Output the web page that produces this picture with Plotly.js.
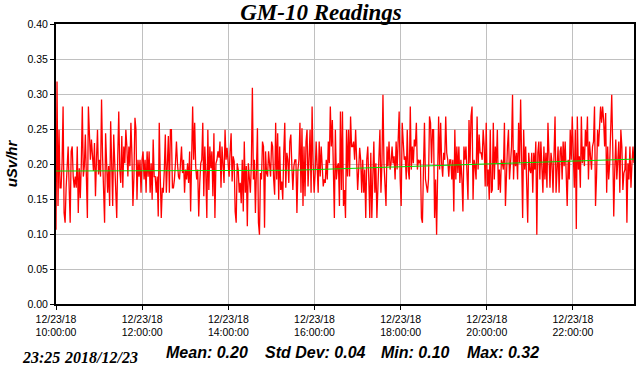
<!DOCTYPE html>
<html>
<head>
<meta charset="utf-8">
<script src="https://cdn.plot.ly/plotly-3.0.1.min.js"></script>
<style>
  html, body { margin: 0; padding: 0; background: #fff; }
  #chart { width: 642px; height: 365px; }
</style>
</head>
<body>
<div id="chart"></div>
<script>
// GM-10 dose-rate readings (uSv/hr), evenly sampled from 10:00 to 23:25 on 2018-12-23
const readings = [
  0.106,0.318,0.140,0.249,0.166,0.166,0.201,0.282,0.130,0.116,
  0.166,0.201,0.225,0.166,0.116,0.218,0.225,0.182,0.166,0.182,
  0.166,0.225,0.130,0.194,0.151,0.201,0.282,0.182,0.197,0.242,
  0.166,0.123,0.282,0.249,0.206,0.235,0.206,0.190,0.230,0.154,
  0.206,0.249,0.185,0.206,0.182,0.292,0.211,0.166,0.116,0.244,
  0.182,0.159,0.197,0.140,0.261,0.182,0.140,0.242,0.201,0.182,
  0.123,0.211,0.275,0.192,0.173,0.240,0.166,0.225,0.201,0.249,
  0.225,0.182,0.225,0.197,0.259,0.213,0.140,0.182,0.266,0.249,
  0.149,0.206,0.182,0.206,0.159,0.206,0.218,0.178,0.206,0.159,
  0.218,0.182,
  0.218,0.159,0.201,0.149,0.235,0.182,0.182,0.159,0.182,0.125,
  0.259,0.182,0.123,0.166,0.159,0.192,0.242,0.159,0.220,0.240,
  0.159,0.249,0.249,0.166,0.166,0.178,0.201,0.232,0.201,0.182,
  0.178,0.206,0.225,0.187,0.206,0.159,0.192,0.178,0.201,0.173,
  0.218,0.132,0.242,0.282,0.206,0.259,0.197,0.178,0.192,0.125,
  0.173,0.201,0.206,0.259,0.154,0.225,0.187,0.123,0.249,0.163,
  0.225,0.194,0.218,0.154,0.244,0.123,0.201,0.206,0.218,0.209,
  0.232,0.166,0.225,0.206,0.173,0.249,0.206,0.223,0.194,0.182,
  0.218,0.244,0.175,0.211,0.204,0.132,0.116,0.201,0.192,0.159,
  0.173,0.144,0.206,
  0.132,0.232,0.159,0.197,0.111,0.201,0.178,0.159,0.201,
  0.309,0.178,0.206,0.130,0.178,0.251,0.116,0.099,0.187,0.178,
  0.232,0.225,0.109,0.218,0.187,0.182,0.218,0.201,0.182,0.232,
  0.225,0.178,0.156,0.259,0.178,0.244,0.149,0.225,0.163,0.175,
  0.149,0.216,0.259,0.166,0.216,0.206,0.173,0.232,0.242,0.197,
  0.163,0.197,0.206,0.206,0.130,0.192,0.206,0.259,0.159,0.251,
  0.140,0.225,0.154,0.232,0.249,0.168,0.225,0.249,0.159,0.282,
  0.201,0.159,0.187,0.232,0.197,0.159,0.232,0.182,0.225,0.201,
  0.168,0.178,0.173,0.206,0.178,0.232,0.201,0.282,0.225,0.263,
  0.201,0.123,0.249,0.178,0.197,0.201,0.140,0.275,0.163,0.275,
  0.140,0.163,0.123,0.249,0.182,0.249,0.182,
  0.268,0.225,0.225,0.232,0.206,0.249,0.197,0.163,0.192,0.223,
  0.206,0.159,0.206,0.159,0.192,0.123,0.206,0.225,0.178,0.123,
  0.216,0.123,0.182,0.232,0.159,0.201,0.123,0.187,0.209,0.249,
  0.159,0.201,0.299,0.201,0.178,0.140,0.225,0.197,0.232,0.192,
  0.201,0.225,0.201,0.211,0.178,0.232,0.192,0.225,0.275,0.178,
  0.140,0.259,0.225,0.206,0.211,0.178,0.249,0.190,0.178,0.282,
  0.192,0.225,0.201,0.235,0.225,0.259,0.192,0.206,0.201,0.206,
  0.123,0.116,0.192,0.259,0.178,0.168,0.159,0.178,0.268,0.259,
  0.201,0.249,0.249,0.123,0.178,0.099,0.206,0.268,0.192,0.259,
  0.201,
  0.182,0.216,0.206,0.268,0.216,0.206,0.182,0.206,0.206,
  0.178,0.206,0.132,0.249,0.178,0.225,0.187,0.225,0.173,0.206,
  0.178,0.132,0.225,0.206,0.225,0.197,0.149,0.263,0.201,0.268,
  0.282,0.149,0.206,0.197,0.178,0.268,0.192,0.242,0.216,0.216,
  0.206,0.249,0.225,0.168,0.259,0.168,0.192,0.149,0.249,0.159,
  0.163,0.259,0.178,0.225,0.201,0.249,0.163,0.192,0.159,0.206,
  0.201,0.192,0.259,0.140,0.206,0.225,0.249,0.178,0.201,0.225,
  0.299,0.178,0.220,0.197,0.216,0.178,0.259,0.201,0.292,0.225,
  0.123,0.249,0.192,0.225,0.178,0.116,0.216,0.192,0.187,0.216,
  0.159,0.216,0.192,0.232,0.099,0.216,0.232,0.178,0.232,0.201,
  0.159,
  0.225,0.178,0.216,0.166,0.259,0.206,0.166,
  0.216,0.201,0.159,0.225,0.268,0.159,0.211,0.225,0.159,0.218,
  0.225,0.178,0.232,0.197,0.232,0.192,0.140,0.206,0.178,0.249,
  0.206,0.268,0.201,0.166,0.249,0.107,0.268,0.192,0.211,0.166,
  0.268,0.201,0.225,0.197,0.249,0.225,0.268,0.178,0.232,0.216,
  0.192,0.225,0.232,0.282,0.140,0.182,0.249,0.225,0.263,0.282,
  0.259,0.282,0.263,0.225,0.273,0.159,0.225,0.178,0.201,0.254,
  0.299,0.225,0.125,0.192,0.235,0.178,0.201,0.232,0.159,0.249,
  0.225,0.163,0.187,0.192,0.225,0.116,0.201,0.178,0.225,0.166,
  0.201,0.225,0.201
];

// Smoothed trend (green line)
const trendTimes  = ['2018-12-23 10:00:00','2018-12-23 12:00:00','2018-12-23 14:30:00','2018-12-23 15:30:00',
                     '2018-12-23 16:30:00','2018-12-23 17:30:00','2018-12-23 18:30:00','2018-12-23 19:30:00',
                     '2018-12-23 20:30:00','2018-12-23 21:30:00','2018-12-23 22:30:00','2018-12-23 23:25:00'];
const trendValues = [0.190,0.190,0.190,0.191,0.193,0.195,0.197,0.199,0.201,0.203,0.205,0.207];

// Axis ticks
const xTickTimes  = ['2018-12-23 10:00:00','2018-12-23 12:00:00','2018-12-23 14:00:00','2018-12-23 16:00:00',
                     '2018-12-23 18:00:00','2018-12-23 20:00:00','2018-12-23 22:00:00'];
const xTickLabels = ['12/23/18<br>10:00:00','12/23/18<br>12:00:00','12/23/18<br>14:00:00','12/23/18<br>16:00:00',
                     '12/23/18<br>18:00:00','12/23/18<br>20:00:00','12/23/18<br>22:00:00'];
const yTickValues = [0.00,0.05,0.10,0.15,0.20,0.25,0.30,0.35,0.40];

// Footer texts
const stampTime = '23:25';
const stampDate = '2018/12/23';
const statTexts = ['Mean: 0.20','Std Dev: 0.04','Min: 0.10','Max: 0.32'];
const statLeft  = [164, 263, 379, 465];

const START_MS = Date.UTC(2018, 11, 23, 10, 0, 0);
const END_MS   = Date.UTC(2018, 11, 23, 23, 25, 0);
const SAMPLE_MS = (END_MS - START_MS) / (readings.length - 1);
function fmt(ms) { return new Date(ms).toISOString().replace('T', ' ').slice(0, 23); }
const times = readings.map((_, i) => fmt(START_MS + i * SAMPLE_MS));

const W = 642, H = 365;
const tickFont = { family: 'Liberation Sans, Arial, sans-serif', size: 10.5, color: '#000' };

const annotations = [
  { text: '<b><i>' + stampTime + '</i></b>', xref: 'paper', yref: 'paper',
    x: (20 - 56) / 578, xanchor: 'left', y: -(357 - 304) / 280, yanchor: 'middle', showarrow: false,
    font: { family: 'Liberation Serif, Times New Roman, serif', size: 16, color: '#000' } },
  { text: '<b><i>' + stampDate + '</i></b>', xref: 'paper', yref: 'paper',
    x: (140 - 56) / 578, xanchor: 'right', y: -(357 - 304) / 280, yanchor: 'middle', showarrow: false,
    font: { family: 'Liberation Serif, Times New Roman, serif', size: 16, color: '#000' } }
];
statTexts.forEach((t, i) => annotations.push({
  text: '<b><i>' + t + '</i></b>', xref: 'paper', yref: 'paper',
  x: (statLeft[i] - 56) / 578, xanchor: 'left', y: -(352 - 304) / 280, yanchor: 'middle', showarrow: false,
  font: { family: 'Liberation Sans, Arial, sans-serif', size: 16, color: '#000' }
}));

const data = [
  { x: times, y: readings, type: 'scatter', mode: 'lines',
    line: { color: '#ff0000', width: 1.3 }, hoverinfo: 'skip' },
  { x: trendTimes, y: trendValues, type: 'scatter', mode: 'lines',
    line: { color: '#00dd00', width: 1 }, hoverinfo: 'skip' }
];

const layout = {
  width: W, height: H,
  margin: { l: 56, r: 8, t: 24, b: 61, pad: 0 },
  paper_bgcolor: '#fff', plot_bgcolor: '#fff',
  showlegend: false,
  title: { text: '<b><i>GM-10 Readings</i></b>', xref: 'container', x: 0.5, xanchor: 'center',
           yref: 'container', y: 1 - 12 / H, yanchor: 'middle',
           font: { family: 'Liberation Serif, Times New Roman, serif', size: 23, color: '#000' } },
  xaxis: {
    type: 'date', range: [fmt(START_MS), fmt(END_MS)], autorange: false,
    tickmode: 'array', tickvals: xTickTimes, ticktext: xTickLabels,
    tickfont: tickFont, ticks: 'outside', ticklen: 4, tickcolor: '#000', tickwidth: 1,
    showgrid: true, gridcolor: '#c0c0c0', gridwidth: 1, zeroline: false,
    showline: true, linecolor: '#000', linewidth: 2, mirror: true, fixedrange: true
  },
  yaxis: {
    range: [0, 0.40], autorange: false,
    tickmode: 'array', tickvals: yTickValues, tickformat: '.2f',
    tickfont: tickFont, ticks: 'outside', ticklen: 4, tickcolor: '#000', tickwidth: 1,
    showgrid: true, gridcolor: '#c0c0c0', gridwidth: 1, zeroline: false,
    showline: true, linecolor: '#000', linewidth: 2, mirror: true, fixedrange: true,
    title: { text: '<b><i>uSv/hr</i></b>', standoff: 6,
             font: { family: 'Liberation Sans, Arial, sans-serif', size: 15, color: '#000' } }
  },
  annotations: annotations
};

Plotly.newPlot('chart', data, layout, { staticPlot: true, displayModeBar: false });
</script>
</body>
</html>
